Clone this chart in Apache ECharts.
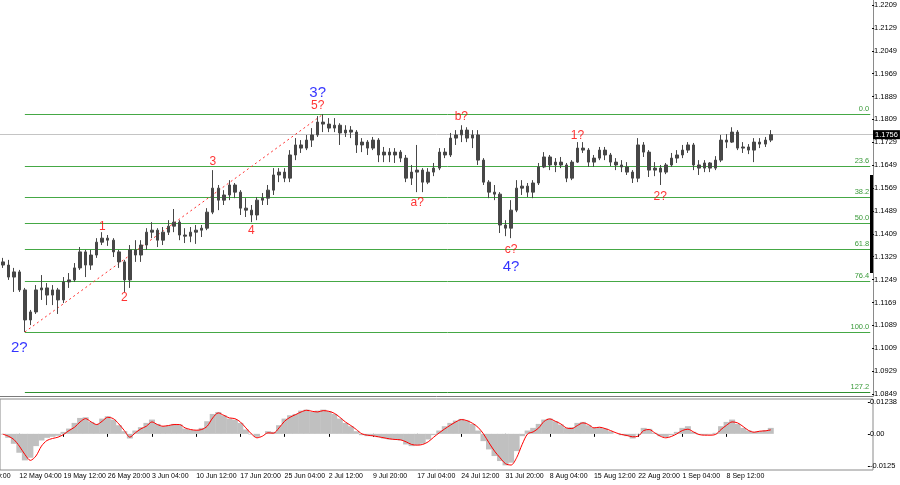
<!DOCTYPE html>
<html><head><meta charset="utf-8">
<script src="https://cdn.jsdelivr.net/npm/echarts@6/dist/echarts.min.js"></script>
<style>html,body{margin:0;padding:0;background:#fff;overflow:hidden}#c{width:900px;height:485px}</style>
</head><body><div id="c"></div><script>
// ---- data (EUR/USD H4, sampled every 4 bars = 16h) ----
const slotCount = 158; // bar slots incl. empty chart shift on the right
// [open, close, low, high]
const priceBars = [
[1.1311,1.1300,1.1290,1.1325],[1.1300,1.1258,1.1248,1.1318],[1.1258,1.1276,1.1206,1.1290],[1.1276,1.1213,1.1206,1.1283],
[1.1213,1.1108,1.1066,1.1220],[1.1108,1.1136,1.1090,1.1143],[1.1136,1.1213,1.1129,1.1230],[1.1213,1.1220,1.1178,1.1265],
[1.1220,1.1195,1.1160,1.1237],[1.1195,1.1213,1.1160,1.1230],[1.1213,1.1178,1.1129,1.1220],[1.1178,1.1241,1.1167,1.1258],
[1.1241,1.1248,1.1220,1.1272],[1.1248,1.1290,1.1241,1.1307],[1.1290,1.1346,1.1283,1.1363],[1.1346,1.1300,1.1258,1.1353],
[1.1300,1.1335,1.1283,1.1353],[1.1335,1.1380,1.1325,1.1394],[1.1380,1.1394,1.1370,1.1415],[1.1394,1.1387,1.1367,1.1405],
[1.1387,1.1346,1.1328,1.1394],[1.1346,1.1311,1.1290,1.1353],[1.1311,1.1248,1.1206,1.1318],[1.1248,1.1353,1.1220,1.1370],
[1.1353,1.1335,1.1311,1.1387],[1.1335,1.1370,1.1311,1.1387],[1.1370,1.1415,1.1353,1.1429],[1.1415,1.1422,1.1394,1.1450],
[1.1422,1.1387,1.1363,1.1429],[1.1387,1.1415,1.1370,1.1433],[1.1415,1.1436,1.1405,1.1457],[1.1436,1.1450,1.1415,1.1496],
[1.1450,1.1405,1.1387,1.1457],[1.1405,1.1401,1.1377,1.1429],[1.1401,1.1415,1.1380,1.1433],[1.1415,1.1422,1.1374,1.1440],
[1.1422,1.1429,1.1398,1.1440],[1.1429,1.1485,1.1422,1.1499],[1.1485,1.1569,1.1478,1.1632],[1.1569,1.1527,1.1492,1.1580],
[1.1527,1.1545,1.1510,1.1562],[1.1545,1.1580,1.1527,1.1597],[1.1580,1.1555,1.1534,1.1587],[1.1555,1.1499,1.1475,1.1562],
[1.1499,1.1492,1.1468,1.1534],[1.1492,1.1475,1.1450,1.1510],[1.1475,1.1527,1.1457,1.1538],[1.1527,1.1534,1.1510,1.1552],
[1.1534,1.1562,1.1510,1.1580],[1.1562,1.1615,1.1545,1.1639],[1.1615,1.1625,1.1590,1.1639],[1.1625,1.1604,1.1590,1.1639],
[1.1604,1.1685,1.1590,1.1702],[1.1685,1.1720,1.1667,1.1744],[1.1720,1.1709,1.1692,1.1737],[1.1709,1.1737,1.1702,1.1755],
[1.1737,1.1755,1.1713,1.1779],[1.1755,1.1800,1.1748,1.1821],[1.1800,1.1793,1.1765,1.1828],[1.1793,1.1779,1.1765,1.1814],
[1.1779,1.1789,1.1765,1.1814],[1.1789,1.1762,1.1720,1.1796],[1.1762,1.1772,1.1748,1.1789],[1.1772,1.1765,1.1744,1.1786],
[1.1765,1.1720,1.1692,1.1772],[1.1720,1.1730,1.1695,1.1744],[1.1730,1.1709,1.1685,1.1737],[1.1709,1.1737,1.1702,1.1748],
[1.1737,1.1685,1.1660,1.1744],[1.1685,1.1695,1.1660,1.1713],[1.1695,1.1685,1.1660,1.1709],[1.1685,1.1695,1.1657,1.1709],
[1.1695,1.1674,1.1660,1.1702],[1.1674,1.1604,1.1590,1.1685],[1.1604,1.1625,1.1580,1.1650],[1.1625,1.1632,1.1555,1.1720],
[1.1632,1.1590,1.1555,1.1639],[1.1590,1.1625,1.1583,1.1639],[1.1625,1.1639,1.1611,1.1657],[1.1639,1.1695,1.1632,1.1709],
[1.1695,1.1685,1.1674,1.1709],[1.1685,1.1744,1.1678,1.1762],[1.1744,1.1755,1.1720,1.1772],[1.1755,1.1772,1.1730,1.1789],
[1.1772,1.1744,1.1730,1.1782],[1.1744,1.1755,1.1709,1.1772],[1.1755,1.1667,1.1650,1.1772],[1.1667,1.1590,1.1580,1.1674],
[1.1590,1.1555,1.1534,1.1597],[1.1555,1.1548,1.1527,1.1580],[1.1548,1.1440,1.1412,1.1555],[1.1440,1.1429,1.1401,1.1457],
[1.1429,1.1492,1.1394,1.1527],[1.1492,1.1569,1.1485,1.1597],[1.1569,1.1576,1.1545,1.1597],[1.1576,1.1555,1.1538,1.1587],
[1.1555,1.1587,1.1534,1.1597],[1.1587,1.1643,1.1580,1.1657],[1.1643,1.1678,1.1639,1.1695],[1.1678,1.1650,1.1632,1.1685],
[1.1650,1.1660,1.1625,1.1674],[1.1660,1.1650,1.1639,1.1678],[1.1650,1.1604,1.1590,1.1657],[1.1604,1.1660,1.1597,1.1667],
[1.1660,1.1709,1.1657,1.1730],[1.1709,1.1702,1.1692,1.1730],[1.1702,1.1660,1.1643,1.1709],[1.1660,1.1674,1.1643,1.1685],
[1.1674,1.1702,1.1667,1.1713],[1.1702,1.1685,1.1667,1.1713],[1.1685,1.1660,1.1646,1.1692],[1.1660,1.1650,1.1632,1.1674],
[1.1650,1.1643,1.1625,1.1667],[1.1643,1.1625,1.1615,1.1660],[1.1625,1.1604,1.1587,1.1632],[1.1604,1.1720,1.1590,1.1744],
[1.1720,1.1695,1.1678,1.1730],[1.1695,1.1632,1.1608,1.1702],[1.1632,1.1639,1.1611,1.1660],[1.1639,1.1625,1.1580,1.1650],
[1.1625,1.1650,1.1618,1.1657],[1.1650,1.1674,1.1643,1.1692],[1.1674,1.1685,1.1657,1.1702],[1.1685,1.1702,1.1674,1.1720],
[1.1702,1.1720,1.1692,1.1730],[1.1720,1.1650,1.1632,1.1727],[1.1650,1.1639,1.1615,1.1667],[1.1639,1.1657,1.1625,1.1667],
[1.1657,1.1639,1.1625,1.1660],[1.1639,1.1667,1.1632,1.1681],[1.1667,1.1737,1.1660,1.1755],[1.1737,1.1730,1.1709,1.1758],
[1.1730,1.1765,1.1727,1.1782],[1.1765,1.1709,1.1702,1.1772],[1.1709,1.1713,1.1692,1.1730],[1.1713,1.1702,1.1688,1.1723],
[1.1702,1.1730,1.1660,1.1744],[1.1730,1.1723,1.1709,1.1744],[1.1723,1.1737,1.1713,1.1748],[1.1737,1.1756,1.1730,1.1772]
];
const macdHist = [
-0.00026,-0.00155,-0.00387,-0.00735,-0.01032,-0.00929,-0.00477,-0.00258,-0.00155,-0.00116,
-0.00077,0.00077,0.00206,0.00426,0.00619,0.00645,0.00464,0.00387,0.00593,0.00684,
0.00555,0.00335,0.00103,-0.00181,0.00129,0.00258,0.00426,0.00555,0.00387,0.00297,
0.00323,0.00387,0.00361,0.00206,0.00155,0.00142,0.00232,0.00490,0.00774,0.00851,
0.00722,0.00593,0.00555,0.00426,0.00168,-0.00026,-0.00116,0,0.00103,0.00077,
0.00335,0.00593,0.00722,0.00774,0.00903,0.00942,0.00851,0.00903,0.00942,0.00877,
0.00774,0.00593,0.00426,0.00297,0.00103,-0.00052,-0.00090,-0.00090,-0.00129,-0.00181,
-0.00219,-0.00219,-0.00258,-0.00413,-0.00477,-0.00439,-0.00387,-0.00219,-0.00052,0.00129,
0.00297,0.00426,0.00516,0.00581,0.00516,0.00387,0.00129,-0.00284,-0.00606,-0.00864,
-0.01058,-0.01226,-0.01122,-0.00671,-0.00090,0.00129,0.00232,0.00387,0.00555,0.00593,
0.00490,0.00361,0.00232,0.00258,0.00426,0.00464,0.00335,0.00232,0.00258,0.00206,
0.00103,0,-0.00052,-0.00090,-0.00181,-0.00026,0.00232,0.00194,0.00039,-0.00090,
-0.00129,-0.00052,0.00077,0.00232,0.00297,0.00077,-0.00026,-0.00039,-0.00026,0.00039,
0.00297,0.00464,0.00555,0.00387,0.00232,0.00129,0.00077,0.00103,0.00142,0.00232
];
const macdSignal = [
-0.00013,-0.00090,-0.00219,-0.00477,-0.00800,-0.01032,-0.00864,-0.00477,-0.00258,-0.00181,
-0.00129,-0.00026,0.00129,0.00258,0.00464,0.00593,0.00464,0.00361,0.00490,0.00645,
0.00593,0.00387,0.00129,-0.00129,0.00039,0.00194,0.00297,0.00464,0.00361,0.00297,
0.00323,0.00361,0.00361,0.00232,0.00168,0.00142,0.00168,0.00297,0.00619,0.00813,
0.00722,0.00619,0.00593,0.00464,0.00232,0,-0.00155,-0.00090,0.00039,0.00026,
0.00232,0.00490,0.00645,0.00748,0.00851,0.00916,0.00877,0.00851,0.00903,0.00877,
0.00800,0.00645,0.00464,0.00323,0.00168,0,-0.00052,-0.00077,-0.00116,-0.00155,
-0.00194,-0.00219,-0.00232,-0.00310,-0.00413,-0.00439,-0.00413,-0.00310,-0.00129,0.00039,
0.00194,0.00335,0.00464,0.00555,0.00516,0.00413,0.00258,0,-0.00348,-0.00671,
-0.00929,-0.01161,-0.01213,-0.00929,-0.00413,0,0.00077,0.00232,0.00490,0.00581,
0.00490,0.00387,0.00232,0.00206,0.00323,0.00426,0.00361,0.00232,0.00258,0.00206,
0.00129,0.00039,-0.00026,-0.00065,-0.00116,-0.00090,0.00129,0.00168,0.00039,-0.00090,
-0.00155,-0.00103,0,0.00129,0.00181,0.00077,-0.00026,-0.00052,-0.00052,-0.00026,
0.00168,0.00335,0.00464,0.00426,0.00284,0.00129,0.00065,0.00103,0.00116,0.00155
];
const priceTickLabels = ['1.0849','1.0929','1.1009','1.1089','1.1169','1.1249','1.1329','1.1409','1.1489',
  '1.1569','1.1649','1.1729','1.1809','1.1889','1.1969','1.2049','1.2129','1.2209'];
const macdTickLabels = ['-0.0125','0.00','0.01238'];
const timeTickLabels = ['12 May 04:00','19 May 12:00','26 May 20:00','3 Jun 04:00','10 Jun 12:00','17 Jun 20:00',
  '25 Jun 04:00','2 Jul 12:00','9 Jul 20:00','17 Jul 04:00','24 Jul 12:00','31 Jul 20:00','8 Aug 04:00',
  '15 Aug 12:00','22 Aug 20:00','1 Sep 04:00','8 Sep 12:00'];
const offChartTimeLabel = '5 May 20:00';
const firstTimeTick = 3, timeTickStep = 8;
const fibNames = ['0.0','23.6','38.2','50.0','61.8','76.4','100.0','127.2'];
const fibLevels = [1.1828,1.1646,1.1538,1.1447,1.1356,1.1245,1.1066,1.0856];
const fibStartSlot = 4;
const trendFrom = [4, 1.1066], trendTo = [58, 1.1828];
const currentPrice = 1.1756;
// [text, slot, price]
const majorWaves = [['2?',3,1.1010],['3?',57,1.1901],['4?',92,1.1293]];
const minorWaves = [['1',18,1.1434],['2',22,1.1185],['3',38,1.1660],['4',45,1.1419],['5?',57,1.1857],
  ['a?',75,1.1517],['b?',83,1.1818],['c?',92,1.1352],['1?',104,1.1752],['2?',119,1.1538]];

// ---- chart ----
const cats = Array.from({length: slotCount}, (_, i) => String(i));
const lastTimeTick = firstTimeTick + (timeTickLabels.length - 1) * timeTickStep;
const isTimeTick = i => i >= firstTimeTick && i <= lastTimeTick && (i - firstTimeTick) % timeTickStep === 0;
const FONT = 'Liberation Sans';
const GW = 873;
const FIB_LINE = '#45a845', FIB_TEXT = '#3a9a3a';

const fibLines = fibLevels.map((lv, k) => {
  const ls = {color: k === 7 ? '#2f8f2f' : FIB_LINE, width: 1, type: 'solid', opacity: 1};
  return [
    {coord: [fibStartSlot, lv], lineStyle: ls,
     label: {show: true, position: 'insideEndTop', formatter: fibNames[k], color: FIB_TEXT, fontSize: 7.5,
       fontFamily: FONT, distance: [1, 1]}},
    {coord: [slotCount - 1, lv], lineStyle: ls}
  ];
});
const trendStyle = {color: '#ff3030', width: 1, type: [2, 3]};

const chart = echarts.init(document.getElementById('c'), null, {renderer: 'canvas'});
chart.setOption({
  animation: false,
  backgroundColor: '#ffffff',
  textStyle: {fontFamily: FONT},
  grid: [
    {left: 0, top: 0, width: GW, height: 396, show: false},
    {left: 0, top: 5, width: GW, height: 389, show: false},
    {left: 0, top: 399, width: GW, height: 71, show: true, borderColor: '#8a8a8a', borderWidth: 1},
    {left: 0, top: 402, width: GW, height: 64, show: false}
  ],
  xAxis: [
    {gridIndex: 0, type: 'category', data: cats, axisLine: {show: true, lineStyle: {color: '#7a7a7a', width: 1}},
     axisTick: {show: false}, axisLabel: {show: false}, splitLine: {show: false}},
    {gridIndex: 1, type: 'category', data: cats, show: false},
    {gridIndex: 2, type: 'category', data: cats, axisLine: {show: false},
     axisTick: {show: true, alignWithLabel: true, interval: (i) => isTimeTick(i), length: 3, lineStyle: {color: '#000'}},
     axisLabel: {show: true, interval: (i) => isTimeTick(i), showMinLabel: true, hideOverlap: false,
       align: 'left', margin: 3, fontSize: 7, color: '#000', fontFamily: FONT,
       formatter: (v, i) => isTimeTick(i) ? timeTickLabels[(i - firstTimeTick) / timeTickStep] : ''},
     splitLine: {show: false}},
    {gridIndex: 3, type: 'category', data: cats, show: false}
  ],
  yAxis: [
    {gridIndex: 0, type: 'value', min: 1.0842, max: 1.2227, position: 'right',
     axisLine: {show: true, lineStyle: {color: '#8a8a8a'}}, axisTick: {show: false}, axisLabel: {show: false}, splitLine: {show: false}},
    {gridIndex: 1, type: 'category', data: priceTickLabels, boundaryGap: false, position: 'right',
     axisLine: {show: false}, axisTick: {show: true, interval: 0, length: 2, lineStyle: {color: '#000'}},
     axisLabel: {interval: 0, margin: 2, fontSize: 7.5, color: '#000', fontFamily: FONT}, splitLine: {show: false}},
    {gridIndex: 2, type: 'value', min: -0.01406, max: 0.01355, show: false},
    {gridIndex: 3, type: 'category', data: macdTickLabels, boundaryGap: false, position: 'right',
     axisLine: {show: false}, axisTick: {show: true, interval: 0, length: 2, lineStyle: {color: '#000'}},
     axisLabel: {interval: 0, margin: 2, fontSize: 7.5, color: '#000', fontFamily: FONT}, splitLine: {show: false}}
  ],
  series: [
    {type: 'candlestick', xAxisIndex: 0, yAxisIndex: 0, data: priceBars, barWidth: 3, z: 3,
     itemStyle: {color: '#474747', color0: '#474747', borderColor: '#474747', borderColor0: '#474747', borderWidth: 1}},
    {type: 'scatter', xAxisIndex: 0, yAxisIndex: 0, symbolSize: 0, z: 5,
     data: majorWaves.map(w => [w[1], w[2], w[0]]),
     label: {show: true, position: 'inside', formatter: p => p.data[2], color: '#0000ff', fontSize: 15, fontFamily: FONT}},
    {type: 'scatter', xAxisIndex: 0, yAxisIndex: 0, symbolSize: 0, z: 5,
     data: minorWaves.map(w => [w[1], w[2], w[0]]),
     label: {show: true, position: 'inside', formatter: p => p.data[2], color: '#ff0000', fontSize: 12, fontFamily: FONT},
     markLine: {silent: true, symbol: 'none', z: 1, animation: false, precision: 4,
       lineStyle: {color: FIB_LINE, width: 1, type: 'solid'},
       emphasis: {disabled: true},
       data: [
         {yAxis: currentPrice, lineStyle: {color: '#c4c4c4', width: 1, type: 'solid'},
          label: {show: true, position: 'end', formatter: currentPrice.toFixed(4), backgroundColor: '#000', color: '#fff',
            fontSize: 7.5, fontFamily: FONT, padding: [1, 2, 0, 2], distance: 0}},
         ...fibLines,
         [{coord: trendFrom, lineStyle: trendStyle, label: {show: false}}, {coord: trendTo, lineStyle: trendStyle}]
       ]}},
    {type: 'bar', xAxisIndex: 2, yAxisIndex: 2, data: macdHist, barWidth: 6, barGap: '0%',
     itemStyle: {color: '#c0c0c0'}, z: 2},
    {type: 'line', xAxisIndex: 2, yAxisIndex: 2, data: macdSignal, symbol: 'none', smooth: 0.3,
     lineStyle: {color: '#ff0000', width: 1}, z: 3}
  ],
  graphic: [
    {type: 'rect', shape: {x: 870, y: 175, width: 3, height: 98}, style: {fill: '#000'}, z: 10},
    {type: 'text', x: -28, y: 473, style: {text: offChartTimeLabel, font: '7px "' + FONT + '"', fill: '#000'}, z: 10}
  ]
});
</script></body></html>
